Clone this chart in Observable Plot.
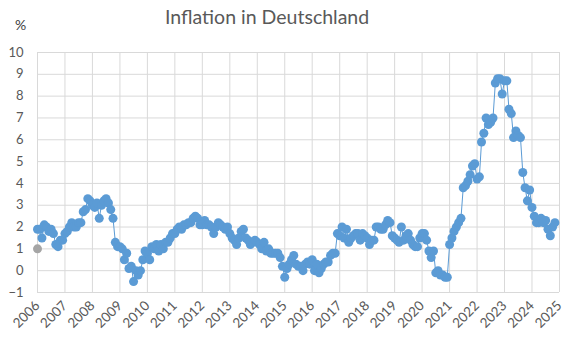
<!DOCTYPE html>
<html><head><meta charset="utf-8">
<script src="https://cdn.jsdelivr.net/npm/d3@7"></script>
<script src="https://cdn.jsdelivr.net/npm/@observablehq/plot@0.6"></script>
<style>
body{margin:0;background:#fff;}
#wrap{position:relative;width:581px;height:351px;font-family:Lato,"Open Sans",sans-serif;}
#title{position:absolute;left:165px;top:5px;font-size:19.5px;color:#595959;white-space:nowrap;}
#unit{position:absolute;left:15px;top:16px;font-size:14px;color:#404040;}
#chart{position:absolute;left:0;top:0;}
</style></head>
<body><div id="wrap"><div id="chart"></div><div id="title">Inflation in Deutschland</div><div id="unit">%</div></div>
<script>
// Monthly inflation rate (%), January .. December per year
const v2006 = [1.9, 1.9, 1.5, 2.1, 2.0, 1.8, 1.9, 1.7, 1.2, 1.1, 1.4, 1.4];
const v2007 = [1.7, 1.8, 2.0, 2.2, 2.0, 2.0, 2.2, 2.2, 2.7, 2.8, 3.3, 3.2];
const v2008 = [3.0, 2.9, 3.1, 2.4, 3.0, 3.2, 3.3, 3.1, 2.8, 2.4, 1.3, 1.1];
const v2009 = [1.1, 1.0, 0.5, 0.8, 0.1, 0.2, -0.5, 0.0, -0.2, 0.0, 0.5, 0.9];
const v2010 = [0.8, 0.5, 1.1, 1.0, 1.2, 0.9, 1.2, 1.0, 1.3, 1.3, 1.5, 1.7];
const v2011 = [1.7, 1.9, 2.0, 1.9, 2.1, 2.1, 2.2, 2.2, 2.4, 2.5, 2.4, 2.1];
const v2012 = [2.1, 2.3, 2.1, 2.1, 2.0, 1.7, 2.0, 2.2, 2.1, 2.0, 1.9, 2.0];
const v2013 = [1.7, 1.5, 1.4, 1.2, 1.5, 1.8, 1.9, 1.5, 1.4, 1.2, 1.3, 1.4];
const v2014 = [1.3, 1.2, 1.0, 1.3, 0.9, 1.0, 0.8, 0.8, 0.8, 0.8, 0.6, 0.2];
const v2015 = [-0.3, 0.1, 0.3, 0.5, 0.7, 0.3, 0.2, 0.2, 0.0, 0.3, 0.4, 0.3];
const v2016 = [0.5, 0.0, 0.3, -0.1, 0.1, 0.3, 0.4, 0.4, 0.7, 0.8, 0.8, 1.7];
const v2017 = [1.6, 2.0, 1.5, 1.9, 1.3, 1.5, 1.6, 1.7, 1.7, 1.4, 1.7, 1.6];
const v2018 = [1.5, 1.2, 1.4, 1.4, 2.0, 2.0, 1.9, 1.9, 2.1, 2.3, 2.2, 1.6];
const v2019 = [1.5, 1.4, 1.3, 2.0, 1.4, 1.6, 1.7, 1.4, 1.2, 1.1, 1.1, 1.5];
const v2020 = [1.7, 1.7, 1.4, 0.9, 0.6, 0.9, -0.1, 0.0, -0.2, -0.2, -0.3, -0.3];
const v2021 = [1.2, 1.5, 1.8, 2.0, 2.2, 2.4, 3.8, 3.9, 4.1, 4.4, 4.8, 4.9];
const v2022 = [4.2, 4.3, 5.9, 6.3, 7.0, 6.7, 6.8, 7.0, 8.6, 8.8, 8.8, 8.1];
const v2023 = [8.7, 8.7, 7.4, 7.2, 6.1, 6.4, 6.2, 6.1, 4.5, 3.8, 3.2, 3.7];
const v2024 = [2.9, 2.5, 2.2, 2.2, 2.4, 2.2, 2.3, 1.9, 1.6, 2.0, 2.2];

const seriesYears = [2006,2007,2008,2009,2010,2011,2012,2013,2014,2015,2016,2017,2018,2019,2020,2021,2022,2023,2024];
const seriesValues = [v2006,v2007,v2008,v2009,v2010,v2011,v2012,v2013,v2014,v2015,v2016,v2017,v2018,v2019,v2020,v2021,v2022,v2023,v2024];

// Single grey point at the start
const greyYear = 2006;
const greyValue = 1.0;

const xTickYears = [2006,2007,2008,2009,2010,2011,2012,2013,2014,2015,2016,2017,2018,2019,2020,2021,2022,2023,2024,2025];
const yTickValues = [-1,0,1,2,3,4,5,6,7,8,9,10];

const data = [];
seriesYears.forEach((yr, k) => {
  seriesValues[k].forEach((v, m) => data.push({date: new Date(Date.UTC(yr, m, 1)), value: v}));
});
const grey = [{date: new Date(Date.UTC(greyYear, 0, 1)), value: greyValue}];
const xTicks = xTickYears.map(y => new Date(Date.UTC(y, 0, 1)));

const chart = Plot.plot({
  width: 581,
  height: 351,
  marginLeft: 37,
  marginRight: 22,
  marginTop: 52,
  marginBottom: 59,
  style: {fontFamily: "Lato, 'Open Sans', sans-serif", fontSize: "13px", color: "#595959", background: "#fff"},
  x: {type: "utc", domain: [xTicks[0], xTicks[xTicks.length - 1]]},
  y: {domain: [-1, 10]},
  marks: [
    Plot.gridX(xTicks, {stroke: "#d9d9d9", strokeOpacity: 1}),
    Plot.gridY(yTickValues, {stroke: "#d9d9d9", strokeOpacity: 1}),
    Plot.axisX(xTicks, {tickFormat: d3.utcFormat("%Y"), tickRotate: -45, tickSize: 0, tickPadding: 11, label: null, fill: "#595959", fontSize: 13.5}),
    Plot.axisY(yTickValues, {tickSize: 0, tickPadding: 14, label: null, fill: "#595959", fontSize: 13}),
    Plot.line(data, {x: "date", y: "value", stroke: "#5B9BD5", strokeWidth: 1}),
    Plot.dot(grey, {x: "date", y: "value", r: 4.5, fill: "#A5A5A5"}),
    Plot.dot(data, {x: "date", y: "value", r: 4.5, fill: "#5B9BD5"})
  ]
});
document.getElementById("chart").appendChild(chart);
</script>
</body></html>
